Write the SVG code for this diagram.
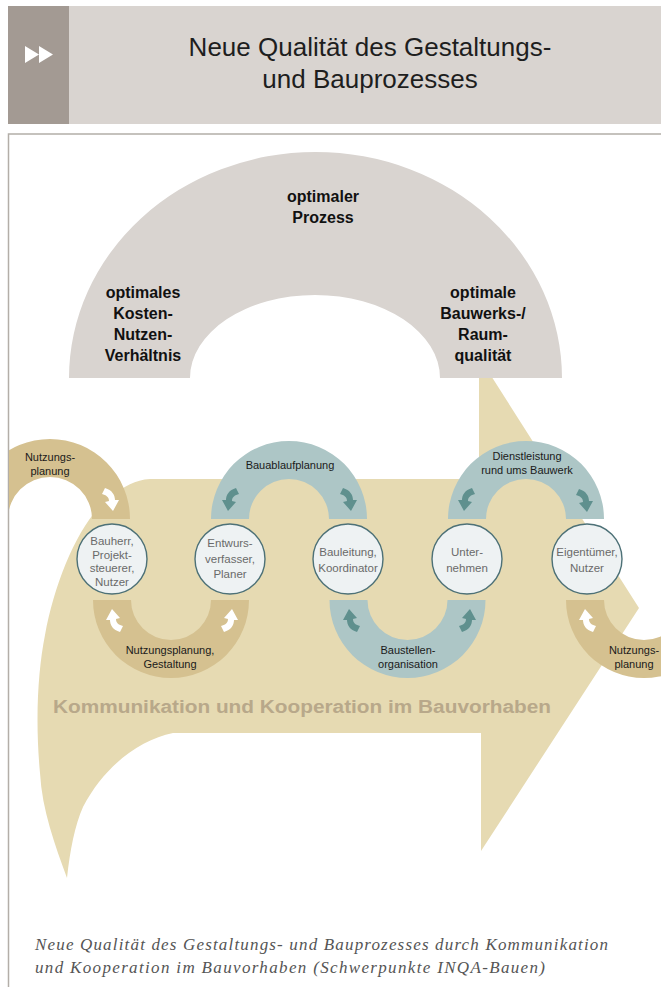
<svg xmlns="http://www.w3.org/2000/svg" width="661" height="987" viewBox="0 0 661 987">
<style>
.title{font-family:"Liberation Sans",Arial,sans-serif;font-size:26px;fill:#1e1e1e;text-anchor:middle}
.arch{font-family:"Liberation Sans",Arial,sans-serif;font-size:16px;font-weight:bold;fill:#111;text-anchor:middle}
.lbl{font-family:"Liberation Sans",Arial,sans-serif;font-size:11px;fill:#1a1a1a;text-anchor:middle}
.ctext{font-family:"Liberation Sans",Arial,sans-serif;font-size:11.5px;fill:#6a6a6a;text-anchor:middle}
.node circle{fill:#eef2f3;stroke:#4d7177;stroke-width:1.4}
.tan{fill:#d5c190}
.teal{fill:#adc6c6}
.wa{fill:#ffffff}
.ta{fill:#5f908e}
.komm{font-family:"Liberation Sans",Arial,sans-serif;font-size:18px;font-weight:bold;fill:#b8a88a}
.cap{font-family:"Liberation Serif","Times New Roman",serif;font-style:italic;font-size:17px;fill:#555}
</style>
<defs>
<path id="arr" d="M -5,-12 C 2,-10 5,-5 5,0 L 9,0 L 3,11 L -5,2 L -1,1 C -1,-3 -4,-5 -8,-6 Z"/>
<clipPath id="clip"><rect x="9" y="134" width="652" height="853"/></clipPath>
</defs>
<rect x="0" y="0" width="661" height="987" fill="#ffffff"/>
<g id="header">
<rect x="68" y="6" width="593" height="118" fill="#d9d4d0"/>
<rect x="8" y="6" width="61" height="118" fill="#a39a93"/>
<path d="M 25,46 L 39,54.5 L 25,63 Z M 39,46 L 53,54.5 L 39,63 Z" fill="#ffffff"/>
<text class="title" x="370" y="56">Neue Qualität des Gestaltungs-</text>
<text class="title" x="370" y="88">und Bauprozesses</text>
</g>
<g id="frame" fill="none" stroke="#b3aea8" stroke-width="1.5">
<path d="M 661,134 L 8.5,134 L 8.5,987"/>
</g>
<g clip-path="url(#clip)">
<path id="bigarrow" fill="#e6dab2" d="M 479,360 L 481,360 L 639,608 L 481,851 L 481,733 L 173,733 C 140,740 105,765 83,807 C 75,825 70,850 67,878 C 55,845 42,810 40,773 C 35,720 38,670 45,635 C 55,580 80,520 110,497 C 125,486 135,480 150,479 L 479,479 Z"/>
<g id="arch">
<path d="M 69,378 A 246.5,226 0 0 1 562,378 L 440,378 A 125,83 0 0 0 190,378 Z" fill="#d9d4d0"/>
<text class="arch" x="323" y="202">optimaler</text>
<text class="arch" x="323" y="223">Prozess</text>
<text class="arch" x="143" y="298">optimales</text>
<text class="arch" x="143" y="319">Kosten-</text>
<text class="arch" x="143" y="340">Nutzen-</text>
<text class="arch" x="143" y="361">Verhältnis</text>
<text class="arch" x="483" y="298">optimale</text>
<text class="arch" x="483" y="319">Bauwerks-/</text>
<text class="arch" x="483" y="340">Raum-</text>
<text class="arch" x="483" y="361">qualität</text>
</g>
<g id="connectors">
<path class="tan" d="M -30,519 A 80,80 0 0 1 130,519 L 92,519 A 42,42 0 0 0 8,519 Z"/>
<path class="teal" d="M 211,519 A 78,78 0 0 1 367,519 L 329,519 A 40,40 0 0 0 249,519 Z"/>
<path class="teal" d="M 448,519 A 78,78 0 0 1 604,519 L 566,519 A 40,40 0 0 0 486,519 Z"/>
<path class="tan" d="M 93,600 A 78,78 0 0 0 249,600 L 211,600 A 40,40 0 0 1 131,600 Z"/>
<path class="teal" d="M 329.5,600 A 78,78 0 0 0 485.5,600 L 447.5,600 A 40,40 0 0 1 367.5,600 Z"/>
<path class="tan" d="M 566,600 A 78,78 0 0 0 722,600 L 684,600 A 40,40 0 0 1 604,600 Z"/>
<use href="#arr" class="wa" transform="translate(110,500)"/>
<use href="#arr" class="ta" transform="translate(231,500) scale(-1,1)"/>
<use href="#arr" class="ta" transform="translate(348,500)"/>
<use href="#arr" class="ta" transform="translate(467,500) scale(-1,1)"/>
<use href="#arr" class="ta" transform="translate(584,501)"/>
<use href="#arr" class="wa" transform="translate(115,620) scale(-1,-1)"/>
<use href="#arr" class="wa" transform="translate(229,620) scale(1,-1)"/>
<use href="#arr" class="ta" transform="translate(352,620) scale(-1,-1)"/>
<use href="#arr" class="ta" transform="translate(467,620) scale(1,-1)"/>
<use href="#arr" class="wa" transform="translate(588,620) scale(-1,-1)"/>
<text class="lbl" x="50" y="461">Nutzungs-</text>
<text class="lbl" x="50" y="475">planung</text>
<text class="lbl" x="290" y="469">Bauablaufplanung</text>
<text class="lbl" x="527" y="460">Dienstleistung</text>
<text class="lbl" x="527" y="474">rund ums Bauwerk</text>
<text class="lbl" x="170" y="654">Nutzungsplanung,</text>
<text class="lbl" x="170" y="668">Gestaltung</text>
<text class="lbl" x="408" y="654">Baustellen-</text>
<text class="lbl" x="408" y="668">organisation</text>
<text class="lbl" x="634" y="654">Nutzungs-</text>
<text class="lbl" x="634" y="668">planung</text>
</g>
<g id="n1" class="node"><circle cx="112" cy="559" r="35"/>
<text class="ctext" x="112" y="545">Bauherr,</text><text class="ctext" x="112" y="559">Projekt-</text><text class="ctext" x="112" y="572">steuerer,</text><text class="ctext" x="112" y="586">Nutzer</text></g>
<g id="n2" class="node"><circle cx="230" cy="559" r="35"/>
<text class="ctext" x="230" y="547">Entwurs-</text><text class="ctext" x="230" y="563">verfasser,</text><text class="ctext" x="230" y="578">Planer</text></g>
<g id="n3" class="node"><circle cx="348" cy="559" r="35"/>
<text class="ctext" x="348" y="556">Bauleitung,</text><text class="ctext" x="348" y="572">Koordinator</text></g>
<g id="n4" class="node"><circle cx="467" cy="559" r="35"/>
<text class="ctext" x="467" y="556">Unter-</text><text class="ctext" x="467" y="572">nehmen</text></g>
<g id="n5" class="node"><circle cx="587" cy="559" r="35"/>
<text class="ctext" x="587" y="556">Eigentümer,</text><text class="ctext" x="587" y="572">Nutzer</text></g>
<text class="komm" x="53" y="713" textLength="498" lengthAdjust="spacingAndGlyphs">Kommunikation und Kooperation im Bauvorhaben</text>
</g>
<g id="caption">
<text class="cap" x="35" y="950" textLength="573">Neue Qualität des Gestaltungs- und Bauprozesses durch Kommunikation</text>
<text class="cap" x="35" y="973" textLength="510">und Kooperation im Bauvorhaben (Schwerpunkte INQA-Bauen)</text>
</g>
</svg>
